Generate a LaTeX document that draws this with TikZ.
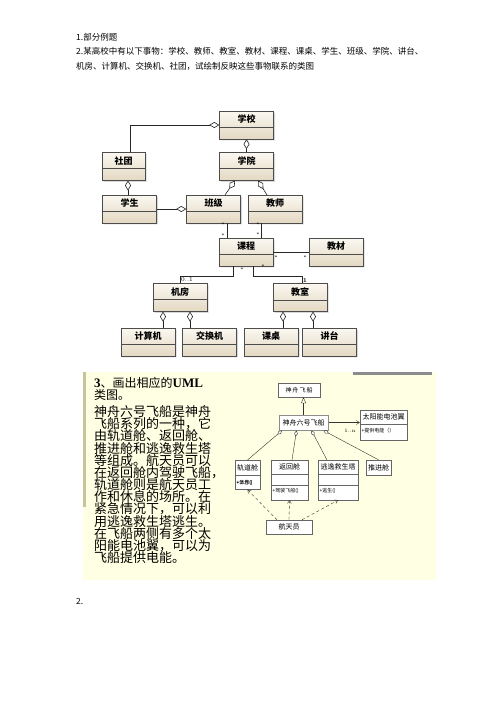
\documentclass[tikz,border=0pt]{standalone}
\usepackage{fontspec}
\usepackage{tikz}
\usetikzlibrary{shapes.multipart,arrows.meta,shadows}
\newfontfamily\cjk{Noto Sans CJK SC}
\newfontfamily\lat{Liberation Serif}
\newcommand\attr{\fontsize{5}{7.5}\selectfont}
\newcommand\strutto[2]{\rule[-#1]{0pt}{#2}}
\definecolor{boxtop}{HTML}{FBF8F1}
\definecolor{boxbot}{HTML}{E3D8C2}
\definecolor{panel}{HTML}{FFFFE3}
\definecolor{strip}{HTML}{C9C39A}
\lineskiplimit=-20pt

\begin{document}
\begin{tikzpicture}[x=1pt, y=-1pt,
    cls/.style={rectangle split, rectangle split parts=2, rectangle split empty part height=0pt,
      draw=black!70, top color=boxtop, bottom color=boxbot, inner ysep=3.5pt, minimum width=54pt,
      font=\cjk\bfseries\fontsize{9}{10}\selectfont,
      drop shadow={shadow xshift=1.5pt, shadow yshift=-1.5pt, fill=black!30}},
    agg/.style={draw=black!85, line width=0.6pt, -{Diamond[fill=white, length=10pt, width=6pt]}},
    link/.style={draw=black!85, line width=0.6pt},
    mult/.style={font=\fontsize{5}{6}\selectfont, inner sep=0.5pt},
    part/.style={rectangle split, rectangle split parts=#1, rectangle split empty part height=0pt,
      draw=black!60, fill=white, inner xsep=1.5pt, inner ysep=3pt, font=\cjk\fontsize{7}{8}\selectfont},
    plain/.style={draw=black!60, fill=white, inner xsep=1.5pt, inner ysep=3pt, font=\cjk\fontsize{7}{8}\selectfont},
    sub/.style={draw=black!80, line width=0.4pt, -{Diamond[fill=white, length=6pt, width=3.5pt]}},
    uses/.style={draw=black!80, line width=0.4pt, dash pattern=on 3pt off 2.5pt, -{Straight Barb[length=3pt, width=4pt]}},
    line/.style={anchor=west, inner sep=0pt, font=\cjk\fontsize{8.5}{10}\selectfont},
    slide/.style={anchor=base west, inner sep=0pt, font=\cjk\fontsize{12}{12}\selectfont}]
    \useasboundingbox[fill=white] (0,0) rectangle (496,702);

    % Question text
    \node[line] (head1) at (76,37) {1.部分例题};
    \node[line] (head2) at (76,51) {2.某高校中有以下事物：学校、教师、教室、教材、课程、课桌、学生、班级、学院、讲台、};
    \node[line] (head3) at (76,66) {机房、计算机、交换机、社团，试绘制反映这些事物联系的类图};

    % Classes
    \node[cls] (school) at (246.5,125) {学校};
    \node[cls, minimum width=43pt] (club) at (123.5,166.5) {社团};
    \node[cls] (college) at (246.5,166.5) {学院};
    \node[cls] (student) at (129.5,209) {学生};
    \node[cls] (class) at (213.5,209) {班级};
    \node[cls] (teacher) at (275,209) {教师};
    \node[cls] (course) at (246,252) {课程};
    \node[cls] (textbook) at (336,252) {教材};
    \node[cls] (lab) at (180,297.5) {机房};
    \node[cls] (room) at (300,297.5) {教室};
    \node[cls] (computer) at (148,342) {计算机};
    \node[cls] (switch) at (209.5,342) {交换机};
    \node[cls] (desk) at (271,342) {课桌};
    \node[cls] (podium) at (329.5,342) {讲台};

    % Relations
    \draw[agg] ([xshift=6.5pt]club.north) |- (school.west);
    \draw[agg] ([xshift=-1.5pt]student.north) -- ([xshift=4.5pt]club.south);
    \draw[agg] (college.north) -- (school.south);
    \draw[agg] ([xshift=11.5pt]class.north) -- ([xshift=-11.5pt]college.south);
    \draw[agg] ([xshift=-8pt]teacher.north) -- ([xshift=11.5pt]college.south);
    \draw[agg] (student.east) -- (class.west);
    \draw[link] ([xshift=13.5pt]class.south) -- ([xshift=-19pt]course.north);
    \draw[link] ([xshift=-14pt]teacher.south) -- ([xshift=15pt]course.north);
    \draw[link] (course.east) -- (textbook.west);
    \draw[link] ([xshift=-13pt]course.south) -- ++(0,10) -| (lab.north);
    \draw[link] ([xshift=7pt]course.south) -- ++(0,10) -| ([xshift=2pt]room.north);
    \draw[agg] ([xshift=15pt]computer.north) -- ([xshift=-17pt]lab.south);
    \draw[agg] ([xshift=-19.5pt]switch.north) -- ([xshift=10pt]lab.south);
    \draw[agg] ([xshift=12pt]desk.north) -- ([xshift=-17pt]room.south);
    \draw[agg] ([xshift=-16.5pt]podium.north) -- ([xshift=13pt]room.south);

    % Multiplicities
    \node[mult] (m1) at (223,225) {*};
    \node[mult] (m2) at (223,236) {*};
    \node[mult] (m3) at (258,225) {*};
    \node[mult] (m4) at (258,235) {*};
    \node[mult] (m5) at (276,258) {*};
    \node[mult] (m6) at (305,258) {*};
    \node[mult] (m7) at (242,270) {*};
    \node[mult] (m8) at (263,267) {*};
    \node[mult, font=\fontsize{6}{7}\selectfont] (m9) at (187,280) {0..1};
    \node[mult, font=\bfseries\fontsize{6}{7}\selectfont] (m10) at (305,281) {1};

    % Slide panel
    \fill[panel] (83,372) rectangle (436,580);
    \fill[strip] (83,372) rectangle (86,507);
    \fill[black!45] (353,372) rectangle (432,375);
    \node[slide] (task) at (94,387.5)
      {{\lat\bfseries\fontsize{13}{12}\selectfont 3}、画出相应的{\lat\bfseries\fontsize{13}{12}\selectfont UML}};
    \node[slide] (task2) at (94,399.5) {类图。};
    \node[anchor=north west, inner sep=0pt, align=left,
      font=\cjk\fontsize{13}{12.15}\selectfont] (story) at (94,405.5)
      {神舟六号飞船是神舟\\飞船系列的一种，它\\由轨道舱、返回舱、\\推进舱和逃逸救生塔\\等组成。航天员可以\\在返回舱内驾驶飞船，\\轨道舱则是航天员工\\作和休息的场所。在\\紧急情况下，可以利\\用逃逸救生塔逃生。\\在飞船两侧有多个太\\阳能电池翼，可以为\\飞船提供电能。};

    % Spacecraft classes
    \node[plain, minimum width=42pt, minimum height=14pt, font=\cjk\fontsize{6}{7}\selectfont] (ship) at (299,390) {神\,舟\,飞\,船};
    \node[plain, draw=black!45, line width=1pt, minimum width=49pt, minimum height=15pt] (ship6) at (303.5,422.5) {神舟六号飞船};
    \node[part=2, anchor=north, minimum width=47pt, rectangle split part align={center,left}] (solar) at (383.5,410)
      {\strutto{1.5pt}{8pt}太阳能电池翼\nodepart{two}{\attr\strutto{4pt}{9pt}+提供电能（）}};
    \node[part=2, anchor=north, minimum width=25pt, rectangle split part align={center,left}] (orbit) at (247.5,460)
      {\strutto{1.5pt}{9pt}轨道舱\nodepart{two}{\attr\begin{tabular}{@{}l@{}}+工作()\\+休息()\end{tabular}}};
    \node[part=3, anchor=north, minimum width=37pt, rectangle split part align={center,left,left}] (capsule) at (289.5,460)
      {\strutto{1.5pt}{8pt}返回舱\nodepart{three}{\attr\strutto{4pt}{7pt}+驾驶飞船()}};
    \node[part=3, anchor=north, minimum width=40pt, rectangle split part align={center,left,left}] (escape) at (338,460)
      {\strutto{1.5pt}{8pt}逃逸救生塔\nodepart{three}{\attr\strutto{4pt}{7pt}+逃生()}};
    \node[plain, minimum width=25pt, minimum height=15pt] (thrust) at (378.5,467.5) {推进舱};
    \node[plain, minimum width=46pt, minimum height=14pt] (crew) at (289,527) {航天员};

    % Spacecraft relations
    \draw[draw=black!80, line width=0.4pt, -{Triangle[open, length=6pt, width=5pt]}] (ship6.north) -- (ship6.north |- ship.south);
    \draw[draw=black!80, line width=0.4pt, -{Straight Barb[length=3pt, width=4pt]}] (ship6.east) -- (ship6.east -| solar.west);
    \node[mult, font=\fontsize{5}{6}\selectfont] (many) at (350,431) {1..n};
    \draw[sub] (orbit.north) -- ([xshift=-21.5pt]ship6.south);
    \draw[sub] ([xshift=2.5pt]capsule.north) -- ([xshift=-7pt]ship6.south);
    \draw[sub] ([xshift=-11pt]escape.north) -- ([xshift=8pt]ship6.south);
    \draw[sub] (thrust.north) -- ([xshift=20pt]ship6.south);
    \draw[uses] ([xshift=-12pt]crew.north) -- (orbit.south);
    \draw[uses] (crew.north) -- (capsule.south);
    \draw[uses] ([xshift=13pt]crew.north) -- (escape.south);

    \node[line] (head4) at (76,601) {2.};
\end{tikzpicture}
\end{document}
